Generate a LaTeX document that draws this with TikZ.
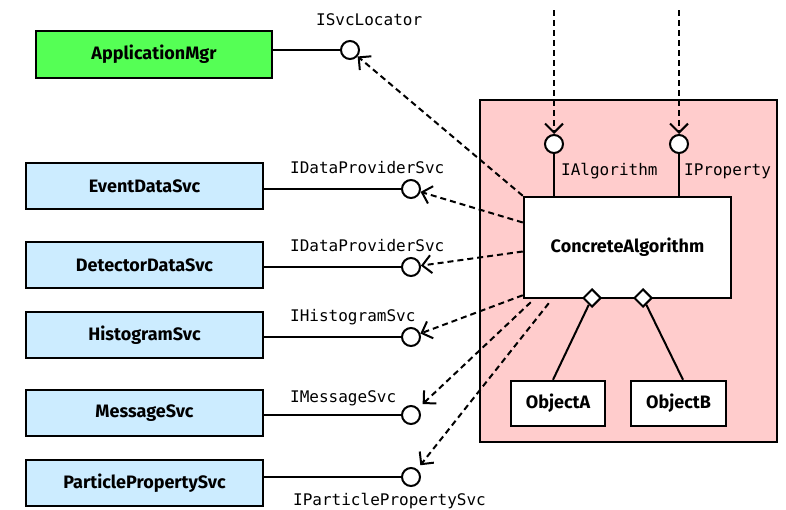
\documentclass[tikz,border=0pt]{standalone}
\usepackage{fontspec}
\setmainfont{Fira Sans}
\setmonofont{DejaVu Sans Mono}
\usetikzlibrary{arrows.meta,shapes.geometric}
\definecolor{mgrgreen}{RGB}{85,255,85}
\definecolor{svcblue}{RGB}{204,236,255}
\definecolor{algpink}{RGB}{255,204,204}
\tikzset{
  svcbox/.style={draw,line width=2.5pt,minimum width=237pt,minimum height=46pt,
    font=\bfseries\fontsize{18}{20}\selectfont},
  objbox/.style={draw,fill=white,line width=2.5pt,minimum width=94pt,minimum height=45pt,
    font=\bfseries\fontsize{18}{20}\selectfont},
  lolly/.style={draw,circle,line width=2pt,fill=white,minimum size=18pt,inner sep=0pt},
  iface/.style={font=\ttfamily\fontsize{16}{18}\selectfont,inner sep=0pt},
  uses/.style={line width=2pt,dash pattern=on 6pt off 4pt,
    -{Straight Barb[length=9pt,width=18pt]}},
  agg/.style={draw,diamond,fill=white,line width=2pt,minimum size=18pt,inner sep=0pt},
  link/.style={line width=2pt}
}
\begin{document}
\begin{tikzpicture}[x=1pt,y=-1pt]
\useasboundingbox (0,0) rectangle (786,509);
% component frame
\draw[fill=algpink,line width=2.5pt] (480,100) rectangle (777,442);
\node[draw,fill=white,line width=2.5pt,minimum width=207pt,minimum height=101pt,
  font=\bfseries\fontsize{18}{20}\selectfont] (alg) at (627.5,247.5) {ConcreteAlgorithm};
% application manager
\node[svcbox,fill=mgrgreen,minimum width=236pt,minimum height=47pt] (appmgr) at (154,54.5) {ApplicationMgr};
\node[lolly] (isvc) at (350,50) {};
\node[iface,anchor=base west] at (316,25) {ISvcLocator};
\draw[link] (appmgr.east |- isvc) -- (isvc);
% services
\foreach \n/\t/\y/\c in {evt/EventDataSvc/186/189,det/DetectorDataSvc/265/267,
  hist/HistogramSvc/335/337,msg/MessageSvc/413/415,part/ParticlePropertySvc/483/477}{
  \node[svcbox,fill=svcblue] (\n) at (144.5,\y) {\t};
  \node[lolly] (\n i) at (411,\c) {};
  \draw[link] (\n.east |- \n i) -- (\n i);
}
\foreach \t/\x/\y in {IDataProviderSvc/290/173,IDataProviderSvc/290/251,
  IHistogramSvc/290/321,IMessageSvc/290/402,IParticlePropertySvc/293/505}
  \node[iface,anchor=base west] at (\x,\y) {\t};
% provided interfaces
\node[lolly] (ialg) at (554,144) {};
\node[lolly] (iprop) at (679,144) {};
\draw[link] (ialg) -- (ialg |- alg.north);
\draw[link] (iprop) -- (iprop |- alg.north);
\node[iface,anchor=base west] at (561,175) {IAlgorithm};
\node[iface,anchor=base west] at (684,175) {IProperty};
\coordinate (algsrc) at (554,10);
\coordinate (propsrc) at (679,10);
\draw[uses] (algsrc) -- (ialg);
\draw[uses] (propsrc) -- (iprop);
% used interfaces
\draw[uses] (alg.north west) -- (isvc);
\draw[uses] ([yshift=25pt]alg.west) -- (evti);
\draw[uses] ([yshift=-4pt]alg.west) -- (deti);
\draw[uses] ([yshift=4pt]alg.south west) -- (histi);
\draw[uses,shorten >=6pt] ([xshift=8pt,yshift=-3pt]alg.south west) -- (msgi);
\draw[uses,shorten >=5pt] ([xshift=26pt,yshift=-4pt]alg.south west) -- (parti);
% owned objects
\node[agg] (dA) at (592,298) {};
\node[agg] (dB) at (643,298) {};
\node[objbox] (objA) at (558,403.5) {ObjectA};
\node[objbox,minimum width=95pt] (objB) at (678.5,403.5) {ObjectB};
\draw[link] (dA) -- ([xshift=-5pt]objA.north);
\draw[link] (dB) -- ([xshift=4.5pt]objB.north);
\end{tikzpicture}
\end{document}
